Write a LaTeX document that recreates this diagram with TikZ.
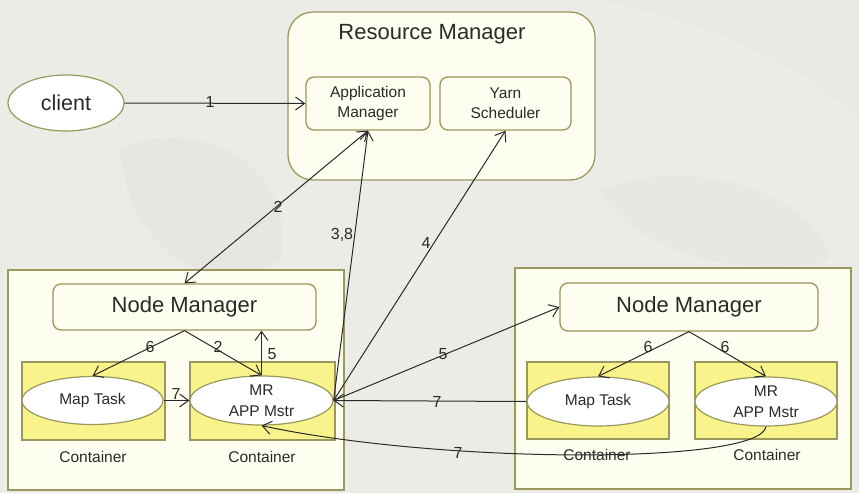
\documentclass[tikz,border=0pt]{standalone}
\usepackage{fontspec}
\setmainfont{Liberation Sans}
\usetikzlibrary{arrows.meta,shapes.geometric}
\definecolor{bgcol}{HTML}{ECECE7}
\definecolor{wash}{HTML}{C9C9C2}
\definecolor{cream}{HTML}{FEFEF0}
\definecolor{olive}{HTML}{9A985C}
\definecolor{cyel}{HTML}{F8F38A}
\definecolor{ink}{HTML}{2A2A2A}
\tikzset{
  panel/.style={draw=olive, fill=cream, line width=1.3pt, inner sep=0pt},
  rpanel/.style={panel, rounded corners=8pt},
  ybox/.style={draw=olive, fill=cyel, line width=1.2pt, inner sep=0pt},
  oval/.style={ellipse, draw=olive, fill=white, line width=1.2pt, inner sep=0pt, align=center, font=\fontsize{15.5}{21}\selectfont, text=ink},
  bigtxt/.style={font=\fontsize{22}{24}\selectfont, text=ink},
  midtxt/.style={font=\fontsize{15.5}{20}\selectfont, text=ink, align=center},
  num/.style={font=\fontsize{16}{18}\selectfont, text=ink, inner sep=0pt},
  conn/.style={draw=ink, line width=1pt},
  arr/.style={conn, -{Straight Barb[length=9pt,width=13pt]}},
  darr/.style={conn, {Straight Barb[length=9pt,width=13pt]}-{Straight Barb[length=9pt,width=13pt]}}
}
\begin{document}
\begin{tikzpicture}[x=1pt, y=-1pt]
  % backdrop with a faint wash
  \path[fill=bgcol] (0,0) rectangle (859,493);
  \fill[wash, opacity=0.12] (120,150) .. controls (200,110) and (300,170) .. (280,260) .. controls (220,300) and (130,260) .. cycle;
  \fill[wash, opacity=0.10] (600,190) .. controls (700,150) and (820,200) .. (830,260) .. controls (760,280) and (640,260) .. cycle;
  \fill[wash, opacity=0.08] (600,0) .. controls (700,20) and (800,60) .. (859,120) -- (859,0) -- cycle;
  \useasboundingbox (0,0) rectangle (859,493);

  % Resource Manager
  \node[panel, rounded corners=25pt, minimum width=307pt, minimum height=168pt] (rm) at (441.5,96) {};
  \node[bigtxt] (rmt) at (432,34) {Resource Manager};
  \node[rpanel, midtxt, minimum width=124pt, minimum height=53pt] (am) at (368,103.5) {Application\\Manager};
  \node[rpanel, midtxt, minimum width=131pt, minimum height=53pt] (ys) at (505.5,103.5) {Yarn\\Scheduler};

  % client
  \node[oval, minimum width=116pt, minimum height=56pt, font=\fontsize{21.5}{24}\selectfont] (client) at (66,103) {client};

  % left node
  \node[panel, minimum width=336pt, minimum height=220pt] (lbox) at (176,380) {};
  \node[rpanel, bigtxt, minimum width=263pt, minimum height=46pt] (lnm) at (184.5,307) {Node Manager};
  \node[ybox, minimum width=143pt, minimum height=78pt] (lc1) at (93.5,401) {};
  \node[ybox, minimum width=145pt, minimum height=78pt] (lc2) at (262.5,401) {};
  \node[oval, minimum width=141pt, minimum height=48pt] (lmt) at (92.5,400.5) {Map Task};
  \node[oval, minimum width=143pt, minimum height=49pt] (lmr) at (261.5,400.5) {MR\\APP Mstr};
  \node[midtxt] (lcl1) at (93,457) {Container};
  \node[midtxt] (lcl2) at (262,457) {Container};

  % right node
  \node[panel, minimum width=336pt, minimum height=221pt] (rbox) at (683,378.5) {};
  \node[rpanel, bigtxt, minimum width=258pt, minimum height=48pt] (rnm) at (689,307) {Node Manager};
  \node[ybox, minimum width=142pt, minimum height=77pt] (rc1) at (598,400.5) {};
  \node[ybox, minimum width=142pt, minimum height=77pt] (rc2) at (766,400.5) {};
  \node[oval, minimum width=142pt, minimum height=49pt] (rmt) at (598,401.5) {Map Task};
  \node[oval, minimum width=142pt, minimum height=49pt] (rmr) at (766,401.5) {MR\\APP Mstr};
  \node[midtxt] (rcl1) at (597,455) {Container};
  \node[midtxt] (rcl2) at (767,455) {Container};

  % connectors
  \draw[arr] (client.east) -- (am.west);
  \draw[darr] (am.south) -- (lnm.north);
  \draw[arr] (lmr.east) -- (am.south);
  \draw[arr] (lmr.east) -- (ys.south);
  \draw[arr] (lmr.east) -- (rnm.west);
  \draw[arr] (rmt.west) -- (lmr.east);
  \draw[arr] (rmr.south) .. controls (760,465) and (440,464) .. (lmr.south);

  \draw[arr] (lnm.south) -- (lmt.north);
  \draw[arr] (lnm.south) -- (lmr.north);
  \draw[arr] (lmr.north) -- (lmr.north |- lnm.south);
  \draw[arr] (lmt.east) -- (lmr.west);
  \draw[arr] (rnm.south) -- (rmt.north);
  \draw[arr] (rnm.south) -- (rmr.north);

  % step numbers
  \node[num] (n1) at (210,102) {1};
  \node[num] (n2a) at (278,207) {2};
  \node[num] (n38) at (342,235) {3,8};
  \node[num] (n4) at (426,243) {4};
  \node[num] (n5a) at (443,354) {5};
  \node[num] (n7a) at (437,402) {7};
  \node[num] (n7b) at (458,453) {7};
  \node[num] (n6a) at (150,347) {6};
  \node[num] (n2b) at (218,347) {2};
  \node[num] (n5b) at (272,354) {5};
  \node[num] (n7c) at (176,394) {7};
  \node[num] (n6b) at (648,347) {6};
  \node[num] (n6c) at (725,347) {6};
\end{tikzpicture}
\end{document}
